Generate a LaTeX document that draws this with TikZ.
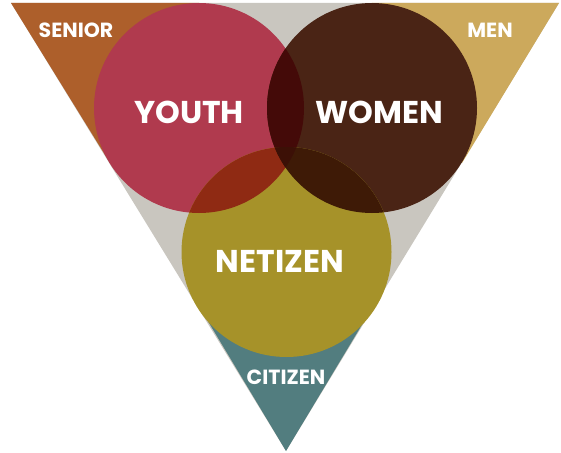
\documentclass[tikz,border=0pt]{standalone}
\usepackage{fontspec}
\setmainfont{Poppins}
\begin{document}
\definecolor{greyfill}{HTML}{C9C6BF}
\definecolor{seniorc}{HTML}{AD5F2B}
\definecolor{menc}{HTML}{CCA95C}
\definecolor{citizenc}{HTML}{527D7F}
\definecolor{youthc}{HTML}{B03A4E}
\definecolor{womenc}{HTML}{4A2415}
\definecolor{netizenc}{HTML}{A69229}
\definecolor{ywc}{HTML}{440A08}
\definecolor{ync}{HTML}{8F2A13}
\definecolor{wnc}{HTML}{3E1A06}
\definecolor{ywnc}{HTML}{3C1006}
\begin{tikzpicture}[x=1pt,y=-1pt,
  biglabel/.style={text=white,font=\fontsize{31.5}{32}\selectfont\bfseries,inner sep=0pt},
  smalllabel/.style={text=white,font=\fontsize{20.5}{21}\selectfont\bfseries,inner sep=0pt}]
\useasboundingbox (0,0) rectangle (561,452);
% corners of the triangle
\coordinate (tl) at (11,3);
\coordinate (tr) at (559,3);
\coordinate (bt) at (286,451);
% circle centres
\coordinate (cy) at (199,108);
\coordinate (cw) at (372,108);
\coordinate (cn) at (286.5,252);
\def\rad{105}
% background triangle and its three coloured corners
\fill[greyfill] (tl) -- (tr) -- (bt) -- cycle;
\fill[seniorc] (tl) -- (199,3) -- (110,163) -- cycle;
\fill[menc] (tr) -- (372,3) -- (462,163) -- cycle;
\fill[citizenc] (bt) -- (206,318) -- (366,318) -- cycle;
% three circles
\fill[youthc] (cy) circle (\rad);
\fill[womenc] (cw) circle (\rad);
\fill[netizenc] (cn) circle (\rad);
% pairwise overlaps
\begin{scope}
  \clip (cy) circle (\rad);
  \fill[ywc] (cw) circle (\rad);
  \fill[ync] (cn) circle (\rad);
\end{scope}
\begin{scope}
  \clip (cw) circle (\rad);
  \fill[wnc] (cn) circle (\rad);
\end{scope}
% triple overlap
\begin{scope}
  \clip (cy) circle (\rad);
  \clip (cw) circle (\rad);
  \fill[ywnc] (cn) circle (\rad);
\end{scope}
% labels
\node[biglabel] (youth) at (189,112) {YOUTH};
\node[biglabel] (women) at (379,112) {WOMEN};
\node[biglabel] (netizen) at (280,261) {NETIZEN};
\node[smalllabel] (senior) at (76,30) {SENIOR};
\node[smalllabel] (men) at (490,30) {MEN};
\node[smalllabel] (citizen) at (286,377) {CITIZEN};
\end{tikzpicture}
\end{document}
